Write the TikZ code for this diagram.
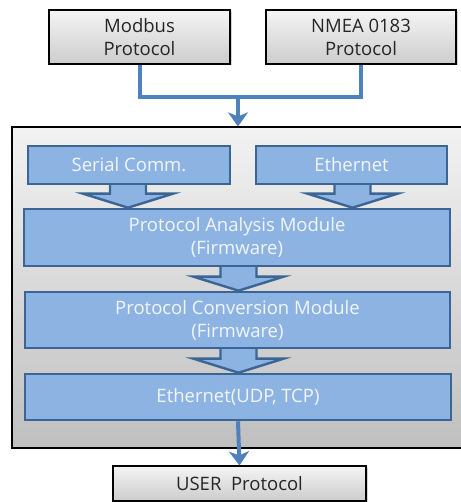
\documentclass[tikz,border=0pt]{standalone}
\usepackage{fontspec}
\setmainfont{Open Sans}
\usetikzlibrary{arrows.meta,calc,shadows}
\definecolor{bluefill}{HTML}{8DB3E2}
\definecolor{blueborder}{HTML}{3A6595}
\definecolor{linkblue}{HTML}{4F81BD}
\definecolor{bluetext}{HTML}{F2F6FB}
\tikzset{
  graybox/.style={draw=black, line width=1.2pt, top color=gray!8, bottom color=gray!40,
    inner sep=0pt, align=center, font=\fontsize{18.5}{23}\selectfont, text=black!85,
    drop shadow={shadow xshift=1.5pt, shadow yshift=-1.5pt, opacity=0.35}},
  outerbox/.style={draw=black, line width=1.2pt, top color=gray!10, bottom color=gray!50,
    inner sep=0pt, drop shadow={shadow xshift=1.5pt, shadow yshift=-1.5pt, opacity=0.35}},
  bluebox/.style={draw=blueborder, line width=2.6pt, fill=bluefill, inner sep=0pt, align=center,
    font=\fontsize{18.5}{23}\selectfont, text=bluetext},
  blockarrow/.style={draw=blueborder, line width=2.4pt, fill=bluefill, line join=miter},
  link/.style={draw=linkblue, line width=4.5pt},
}
\newcommand{\blockarr}[3]{% from, to, xshift
  \path[blockarrow] let \p1=($(#1.south)+(#3,0)$), \p2=(#2.north) in
    (\x1-18,\y1+3) -- (\x1-18,\y2+14) -- (\x1-45,\y2+14) -- (\x1,\y2) --
    (\x1+45,\y2+14) -- (\x1+18,\y2+14) -- (\x1+18,\y1+3) -- cycle;}
\begin{document}
\begin{tikzpicture}[x=1pt,y=1pt]
\useasboundingbox (0,0) rectangle (460,502);
% top boxes
\node[graybox, minimum width=181, minimum height=54] (modbus) at (139.5,465) {Modbus\\Protocol};
\node[graybox, minimum width=190, minimum height=54] (nmea) at (361,465) {NMEA 0183\\Protocol};
% outer box
\node[outerbox, minimum width=452, minimum height=321] (outer) at (238,214.5) {};
% top connectors
\coordinate (join) at (238,405);
\draw[link, line join=miter] (modbus.south -| 140,0) |- (join) -| (nmea.south);
\draw[link, -{Stealth[length=14pt,width=20pt,inset=4pt]}] (join) -- (join |- outer.north);
% inner boxes (positions)
\path (129,337) node[bluebox, minimum width=202, minimum height=38] (serial) {Serial Comm.};
\path (351.5,337) node[bluebox, minimum width=191, minimum height=38] (eth) {Ethernet};
\path (237,264.5) node[bluebox, minimum width=426, minimum height=57] (pam) {Protocol Analysis Module\\(Firmware)};
\path (237.5,182) node[bluebox, minimum width=425, minimum height=56] (pcm) {Protocol Conversion Module\\(Firmware)};
\path (238,105) node[bluebox, minimum width=426, minimum height=46] (udp) {Ethernet(UDP, TCP)};
% block arrows
\blockarr{serial}{pam}{-1}
\blockarr{eth}{pam}{1}
\blockarr{pam}{pcm}{1.5}
\blockarr{pcm}{udp}{1}
% redraw boxes on top of arrow shafts
\node[bluebox, minimum width=202, minimum height=38] at (serial) {Serial Comm.};
\node[bluebox, minimum width=191, minimum height=38] at (eth) {Ethernet};
\node[bluebox, minimum width=426, minimum height=57] at (pam) {Protocol Analysis Module\\(Firmware)};
\node[bluebox, minimum width=425, minimum height=56] at (pcm) {Protocol Conversion Module\\(Firmware)};
% bottom
\node[graybox, minimum width=253, minimum height=35] (user) at (239.5,18.5) {USER\ \ Protocol};
\draw[link, line width=4pt, -{Stealth[length=14pt,width=20pt,inset=4pt]}] (udp.south) -- (user.north);
\end{tikzpicture}
\end{document}
